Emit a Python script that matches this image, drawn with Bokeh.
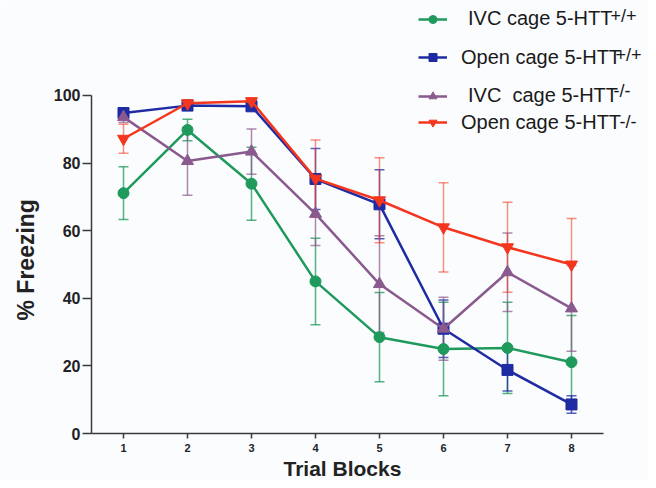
from bokeh.plotting import figure
from bokeh.models import (Range1d, FixedTicker, Legend, LegendItem, Whisker,
                          ColumnDataSource, TeeHead, Label, Title)
from bokeh.embed import file_html
from bokeh.resources import INLINE

# ---------------- data ----------------
trial_blocks = [1, 2, 3, 4, 5, 6, 7, 8]
y_ticks = [0, 20, 40, 60, 80, 100]

ivc_wt_mean = [71.1, 89.8, 73.9, 45.0, 28.5, 25.0, 25.3, 21.1]
ivc_wt_sem = [7.8, 3.2, 10.8, 12.8, 13.2, 13.8, 13.5, 13.8]

open_wt_mean = [94.8, 97.0, 96.8, 75.3, 67.8, 31.0, 18.8, 8.6]
open_wt_sem = [1.6, 1.0, 1.0, 9.0, 10.2, 8.5, 6.2, 2.6]

ivc_ko_mean = [93.6, 80.6, 83.4, 65.0, 44.2, 31.0, 47.7, 37.0]
ivc_ko_sem = [1.6, 10.1, 6.7, 9.4, 14.3, 9.3, 11.6, 12.7]

open_ko_mean = [87.2, 97.7, 98.3, 75.4, 69.0, 61.0, 55.1, 50.0]
open_ko_sem = [4.3, 1.0, 1.0, 11.4, 12.6, 13.2, 13.3, 13.6]

series_labels = ["IVC cage 5-HTT", "Open cage 5-HTT", "IVC  cage 5-HTT", "Open cage 5-HTT"]
series_sups = ["+/+", "+/+", "-/-", "-/-"]

# ---------------- figure ----------------
BG = "#fbfcfe"
FONT = "Liberation Sans"
p = figure(width=648, height=480, output_backend="svg", toolbar_location=None,
           x_range=Range1d(0.5, 9.172), y_range=Range1d(0, 128.1),
           min_border_left=91, min_border_right=2, min_border_top=0,
           min_border_bottom=47, background_fill_color=BG, border_fill_color=BG)
p.outline_line_color = None
p.grid.visible = False

for ax in (p.xaxis[0], p.yaxis[0]):
    ax.axis_line_color = "#3a3a3a"
    ax.axis_line_width = 1.5
    ax.major_tick_line_color = "#3a3a3a"
    ax.major_tick_line_width = 1.5
    ax.minor_tick_line_color = None
    ax.major_tick_in = 0
    ax.major_label_text_font = FONT
    ax.major_label_text_font_style = "bold"
    ax.major_label_text_color = "#222222"

p.xaxis.ticker = FixedTicker(ticks=trial_blocks)
p.xaxis.bounds = (0.5, 8.5)
p.xaxis.major_tick_out = 5
p.xaxis.major_label_standoff = 5
p.xaxis.major_label_text_font_size = "11px"

p.yaxis.ticker = FixedTicker(ticks=y_ticks)
p.yaxis.bounds = (0, 100)
p.yaxis.major_tick_out = 9
p.yaxis.major_label_standoff = 2
p.yaxis.major_label_text_font_size = "16px"

p.add_layout(Title(text="Trial Blocks", align="left", offset=192, standoff=0,
                   text_font=FONT, text_font_size="21px", text_font_style="bold",
                   text_color="#222222"), "below")
p.add_layout(Title(text="% Freezing", align="left", offset=113, standoff=21,
                   vertical_align="middle",
                   text_font=FONT, text_font_size="23px", text_font_style="bold",
                   text_color="#222222"), "left")

series = [
    (ivc_wt_mean, ivc_wt_sem, "#1f9a5c", 0.75, "circle", 11),
    (open_wt_mean, open_wt_sem, "#1f2ba3", 0.75, "square", 11),
    (ivc_ko_mean, ivc_ko_sem, "#8a5a8e", 0.7, "triangle", 12),
    (open_ko_mean, open_ko_sem, "#f4361e", 0.55, "inverted_triangle", 12),
]

row_bottoms = [403, 364.5, 326, 299.5]
row_standoff = [21, 14, 21, 14]
sup_y = [417.5, 378.5, 343, 312]
sup_x = [519, 524, 522, 528]

sources = []
for (mean, sem, color, ealpha, marker, msize) in series:
    src = ColumnDataSource(dict(x=trial_blocks, y=mean,
                                lo=[m - s for m, s in zip(mean, sem)],
                                hi=[m + s for m, s in zip(mean, sem)]))
    w = Whisker(source=src, base="x", upper="hi", lower="lo",
                line_color=color, line_alpha=ealpha, line_width=1.5,
                upper_head=TeeHead(size=10, line_color=color, line_alpha=ealpha, line_width=1.5),
                lower_head=TeeHead(size=10, line_color=color, line_alpha=ealpha, line_width=1.5))
    p.add_layout(w)
    sources.append(src)

renderers = []
for src, (mean, sem, color, ealpha, marker, msize) in zip(sources, series):
    lr = p.line("x", "y", source=src, line_color=color, line_width=2.5)
    sr = p.scatter("x", "y", source=src, marker=marker, size=msize,
                   fill_color=color, line_color=color)
    renderers.append((lr, sr))

for i, (lr, sr) in enumerate(renderers):
    leg = Legend(items=[LegendItem(label=series_labels[i], renderers=[lr, sr])],
                 location=(327, row_bottoms[i]), glyph_width=29, glyph_height=20,
                 label_height=20, label_standoff=row_standoff[i], padding=0, margin=0,
                 border_line_alpha=0, background_fill_alpha=0,
                 label_text_font=FONT, label_text_font_size="20px",
                 label_text_color="#1a1a1a")
    p.add_layout(leg, "center")
    p.add_layout(Label(x=sup_x[i], y=sup_y[i], x_units="screen", y_units="screen",
                       text=series_sups[i], text_font=FONT, text_font_size="18px",
                       text_color="#1a1a1a", text_baseline="middle", text_align="left"))

open("out.html", "w").write(file_html(p, INLINE))
